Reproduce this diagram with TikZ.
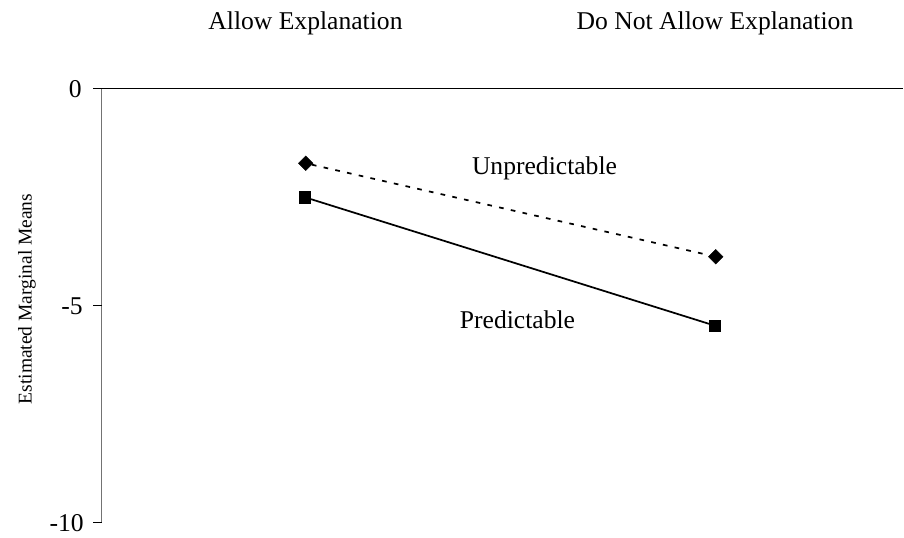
\documentclass[tikz,border=0pt]{standalone}
\usepackage{fontspec}
\setmainfont{Liberation Serif}
\usetikzlibrary{shapes.geometric}
\begin{document}
\begin{tikzpicture}[x=0.75pt,y=-0.75pt,
  lbl/.style={font=\fontsize{19.2pt}{22pt}\selectfont,inner sep=0pt},
  ylbl/.style={font=\fontsize{14.6pt}{17pt}\selectfont,inner sep=0pt},
  sq/.style={draw=black,fill=black,rectangle,minimum size=8.5pt,inner sep=0pt},
  dia/.style={draw=black,fill=black,diamond,minimum size=11pt,inner sep=0pt},
  series/.style={line width=1.3pt},
  dotted series/.style={line width=1.3pt,dash pattern=on 3.5pt off 5.5pt}]
\useasboundingbox (0,0) rectangle (904,538);
% axes
\coordinate (ytop) at (101.7,88.5);
\coordinate (ybot) at (101.7,522.5);
\coordinate (xend) at (903,88.5);
\coordinate (t0) at (93,88.5);
\coordinate (t5a) at (93,305.5);
\coordinate (t5b) at (101.7,305.5);
\coordinate (t10a) at (93,522.5);
\draw[line width=1.1pt,color=black!55] (ytop) -- (ybot);
\draw[line width=1.1pt] (t0) -- (xend);
\draw[line width=1.1pt] (t5a) -- (t5b);
\draw[line width=1.1pt] (t10a) -- (ybot);
% tick labels
\node[lbl,anchor=east] (l0) at (82,89) {0};
\node[lbl,anchor=east] (l5) at (83,306) {-5};
\node[lbl,anchor=east] (l10) at (84,523) {-10};
% axis title
\node[ylbl,rotate=90] (ytitle) at (27,299) {Estimated Marginal Means};
% headers
\node[lbl] (h1) at (305.5,23) {Allow Explanation};
\node[lbl] (h2) at (715,23) {Do Not Allow Explanation};
% data
\node[dia] (u1) at (305.7,163.3) {};
\node[dia] (u2) at (715.7,256.7) {};
\node[sq] (p1) at (305,197.3) {};
\node[sq] (p2) at (715,325.7) {};
\draw[dotted series] (u1) -- (u2);
\draw[series] (p1) -- (p2);
\node[lbl] (ul) at (544.5,168) {Unpredictable};
\node[lbl] (pl) at (517.5,320) {Predictable};
\end{tikzpicture}
\end{document}
